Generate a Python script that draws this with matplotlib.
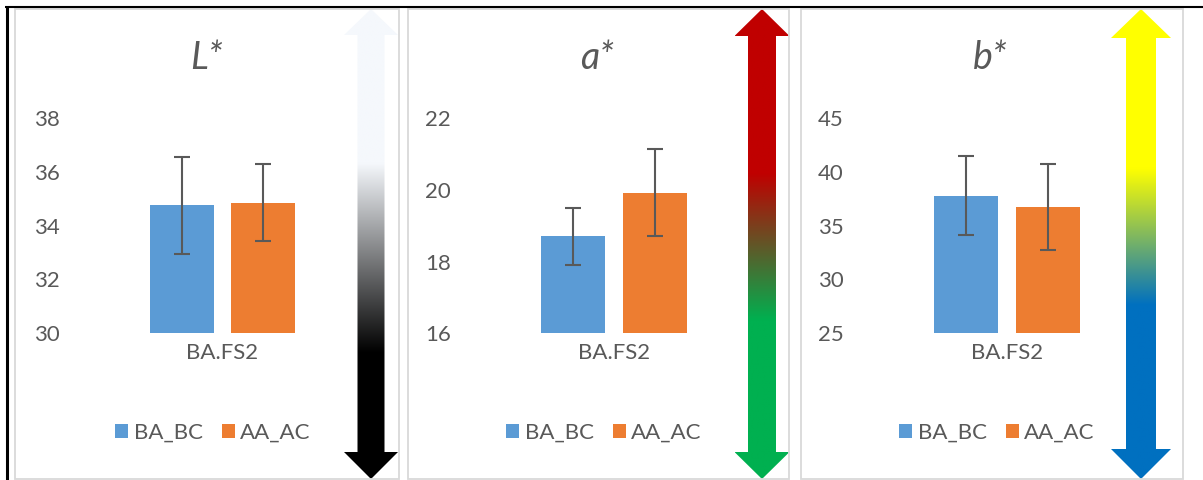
import matplotlib
matplotlib.use("Agg")
import numpy as np
import matplotlib.pyplot as plt
from matplotlib.path import Path
from matplotlib.patches import PathPatch, Rectangle
from matplotlib.colors import to_rgb

plt.rcParams["font.family"] = ["Lato", "DejaVu Sans"]

# ---- data -------------------------------------------------------------
category = "BA.FS2"
series_names = ["BA_BC", "AA_AC"]
panel_titles = ["L*", "a*", "b*"]

L_means = [34.76, 34.86]
L_errors = [1.80, 1.44]
a_means = [18.70, 19.93]
a_errors = [0.80, 1.21]
b_means = [37.80, 36.73]
b_errors = [3.70, 4.02]

L_ticks = [30, 32, 34, 36, 38]
a_ticks = [16, 18, 20, 22]
b_ticks = [25, 30, 35, 40, 45]

# ---- styling ----------------------------------------------------------
W, H = 1203, 480
TEXT = "#595959"
BAR_COLORS = ["#5b9bd5", "#ed7d31"]
FRAME = "#d9d9d9"
FS = 16

fig = plt.figure(figsize=(W / 100, H / 100), dpi=100)


def fx(px):
    return px / W


def fy(py):
    return 1 - py / H


# full-figure layer in pixel units for frames and arrows
layer = fig.add_axes([0, 0, 1, 1])
layer.set_xlim(0, W)
layer.set_ylim(H, 0)
layer.axis("off")

panel_left = [15, 408, 801]
panel_right = [399, 789, 1183]
for l, r in zip(panel_left, panel_right):
    layer.add_patch(Rectangle((l, 9), r - l, 470, fill=False, ec=FRAME, lw=1.3))

layer.plot([5, W], [7, 7], color="black", lw=1.5, solid_capstyle="butt")
layer.plot([7, 7], [6, H], color="black", lw=2.2, solid_capstyle="butt")


def gradient_arrow(cx, shaft_w, head_w, y0, y1, head_top, head_bot, stops):
    verts = [
        (cx, y0), (cx + head_w / 2, head_top), (cx + shaft_w / 2, head_top),
        (cx + shaft_w / 2, head_bot), (cx + head_w / 2, head_bot), (cx, y1),
        (cx - head_w / 2, head_bot), (cx - shaft_w / 2, head_bot),
        (cx - shaft_w / 2, head_top), (cx - head_w / 2, head_top), (cx, y0),
    ]
    codes = [Path.MOVETO] + [Path.LINETO] * 9 + [Path.CLOSEPOLY]
    patch = PathPatch(Path(verts, codes), fc="none", ec="none")
    layer.add_patch(patch)
    ys = np.linspace(y0, y1, 400)
    pos = [s[0] for s in stops]
    cols = np.array([to_rgb(s[1]) for s in stops])
    img = np.stack([np.interp(ys, pos, cols[:, k]) for k in range(3)], axis=-1)
    img = img[:, None, :]
    im = layer.imshow(img, extent=(cx - head_w / 2, cx + head_w / 2, y1, y0),
                      aspect="auto", interpolation="bilinear", origin="upper")
    im.set_clip_path(patch)


gradient_arrow(371, 27, 54, 9, 479, 35, 452,
               [(9, "#f5f8fc"), (163, "#f5f8fc"), (353, "#000000"), (479, "#000000")])
gradient_arrow(762, 28, 55, 9, 479, 36, 452,
               [(9, "#c00000"), (173, "#c00000"), (320, "#00b050"), (479, "#00b050")])
gradient_arrow(1141, 30, 60, 9, 479, 38, 449,
               [(9, "#ffff00"), (168, "#ffff00"), (305, "#0070c0"), (479, "#0070c0")])

# ---- bar panels -------------------------------------------------------
panels = [
    (L_means, L_errors, L_ticks, 222.5, 207, 213),
    (a_means, a_errors, a_ticks, 614, 597, 604),
    (b_means, b_errors, b_ticks, 1007, 990, 997),
]

bar_w = 0.595
offset = 0.377
for (means, errs, ticks, cx, title_x, leg_x), title in zip(panels, panel_titles):
    ax = fig.add_axes([fx(cx - 107.5), fy(333), 215 / W, (333 - 118.5) / H])
    ax.patch.set_alpha(0)
    xs = [-offset, offset]
    handles = []
    for x, m, e, c, name in zip(xs, means, errs, BAR_COLORS, series_names):
        b = ax.bar(x, m - ticks[0], bottom=ticks[0], width=bar_w, color=c, label=name)
        handles.append(b)
        ax.errorbar(x, m, yerr=e, fmt="none", ecolor=TEXT, elinewidth=1.5,
                    capsize=5.8, capthick=1.5)
    ax.set_xlim(-1, 1)
    ax.set_ylim(ticks[0], ticks[-1])
    ax.set_yticks(ticks)
    ax.set_xticks([0])
    ax.set_xticklabels([category])
    for s in ax.spines.values():
        s.set_visible(False)
    ax.tick_params(axis="y", length=0, pad=40, labelsize=FS, labelcolor=TEXT)
    ax.tick_params(axis="x", length=0, pad=7, labelsize=FS, labelcolor=TEXT)
    ax.legend(handles=handles, labels=series_names, loc="center",
              bbox_to_anchor=(fx(leg_x), fy(433)), bbox_transform=fig.transFigure,
              ncol=2, frameon=False, fontsize=FS, handlelength=0.59,
              handleheight=0.59, handletextpad=0.25, columnspacing=0.85,
              borderpad=0, labelcolor=TEXT)
    fig.text(fx(title_x), fy(58), title, ha="center", va="center",
             fontsize=27, style="italic", color=TEXT)

fig.savefig("out.png", dpi=100)
